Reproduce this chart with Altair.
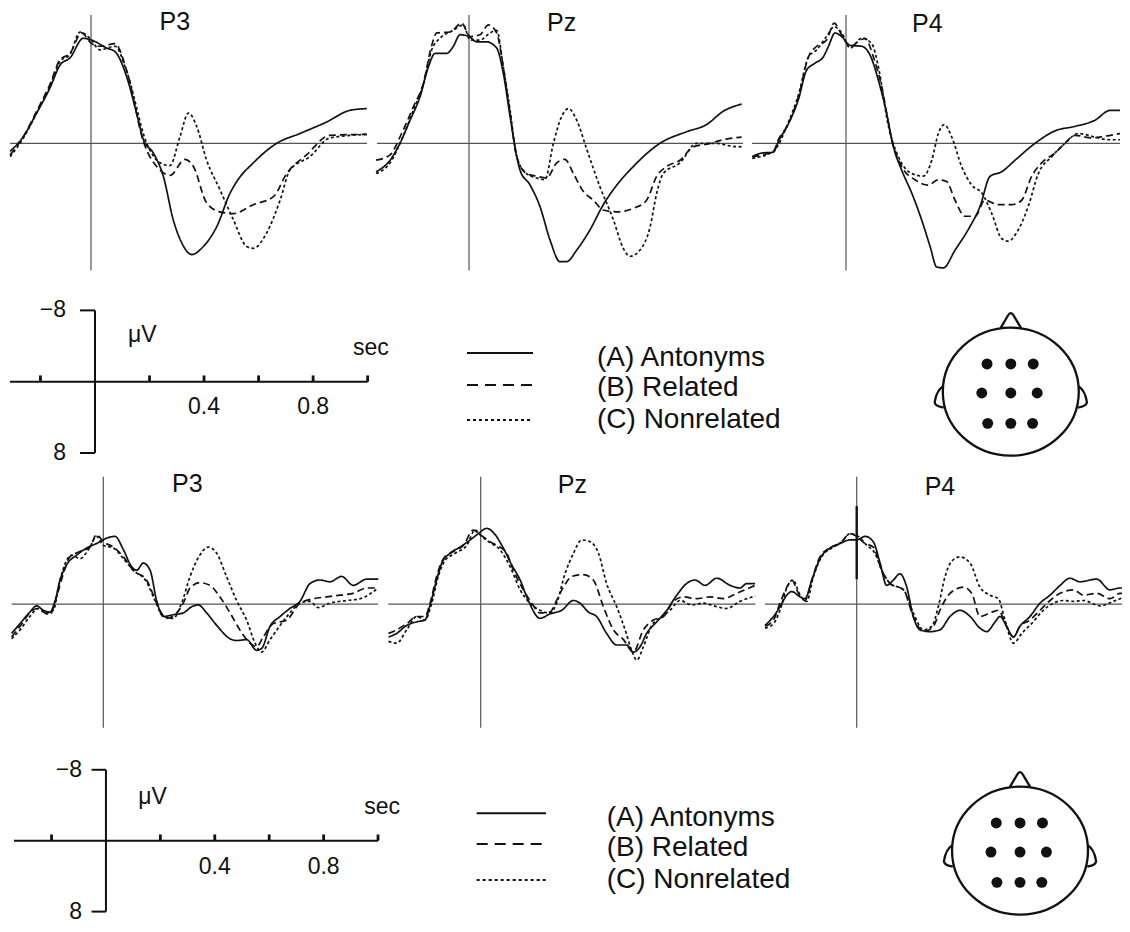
import altair as alt
import pandas as pd

FONT = "Liberation Sans"
INK = "#111111"
AXIS_INK = "#555555"

CONDITIONS = ["(A) Antonyms", "(B) Related", "(C) Nonrelated"]
CURVE_DASHES = [[1, 0], [7, 4], [3, 2.5]]
LEGEND_DASHES = [[1, 0], [11, 7], [3, 3]]
SCALE_TICKS = [-0.2, 0.2, 0.4, 0.6, 0.8, 1.0]
SCALE_TICK_LABEL_T = [0.4, 0.8]
SCALE_TICK_LABELS = ["0.4", "0.8"]
SCALE_V_VALUES = [-8, 8]
SCALE_V_LABELS = ["\u22128", "8"]
ELECTRODE_X = [-0.36, 0.0, 0.34, -0.44, 0.0, 0.40, -0.35, 0.0, 0.33]
ELECTRODE_Y = [-0.42, -0.42, -0.42, 0.02, 0.02, 0.02, 0.48, 0.48, 0.48]

# ---------------- top row (time in s, amplitude in microvolts; negative up) ----------------
T_TOP_P3_A = [-0.293, -0.245, -0.197, -0.149, -0.112, -0.076, -0.028, 0.002, 0.057, 0.087, 0.129, 0.165, 0.19, 0.226, 0.262, 0.298, 0.329, 0.365, 0.407, 0.455, 0.504, 0.528, 0.588, 0.673, 0.757, 0.854, 0.938, 0.999]
V_TOP_P3_A = [0.9, -0.75, -3.4, -6.2, -8.8, -9.6, -11.8, -11.6, -10.7, -10.3, -7.5, -3.4, -0.4, 1.1, 3.7, 8.6, 11.2, 12.5, 11.6, 9.4, 5.6, 4.3, 2.2, 0.0, -1.1, -2.4, -3.7, -3.9]
T_TOP_P3_B = [-0.293, -0.245, -0.197, -0.149, -0.112, -0.076, -0.034, 0.002, 0.033, 0.087, 0.129, 0.19, 0.25, 0.286, 0.341, 0.371, 0.419, 0.467, 0.516, 0.588, 0.661, 0.709, 0.781, 0.866, 0.999]
V_TOP_P3_B = [1.3, -0.75, -3.6, -6.6, -9.4, -10.1, -12.4, -11.2, -10.9, -11.2, -8.2, -0.2, 3.0, 3.6, 1.8, 2.6, 6.7, 7.7, 7.9, 6.9, 6.0, 3.4, 1.3, -0.9, -1.0]
T_TOP_P3_C = [-0.293, -0.245, -0.197, -0.149, -0.112, -0.076, -0.04, -0.004, 0.033, 0.087, 0.129, 0.202, 0.25, 0.286, 0.322, 0.353, 0.383, 0.419, 0.467, 0.516, 0.564, 0.588, 0.636, 0.685, 0.721, 0.793, 0.866, 0.999]
V_TOP_P3_C = [1.5, -0.6, -3.4, -6.4, -9.2, -10.0, -12.5, -11.8, -10.5, -10.9, -8.1, 0.0, 2.2, 2.5, -0.7, -3.4, -1.9, 1.9, 5.2, 8.6, 11.6, 11.8, 10.1, 6.4, 3.0, 1.5, -0.6, -1.0]

T_TOP_PZ_A = [-0.339, -0.288, -0.252, -0.215, -0.179, -0.148, -0.124, -0.082, -0.057, -0.033, 0.0, 0.028, 0.064, 0.101, 0.125, 0.150, 0.168, 0.186, 0.223, 0.259, 0.296, 0.332, 0.356, 0.393, 0.442, 0.490, 0.527, 0.600, 0.697, 0.794, 0.867, 0.928, 0.995]
V_TOP_PZ_A = [3.2, 1.9, 0.0, -2.6, -5.2, -8.6, -10.1, -10.1, -10.9, -12.2, -12.0, -11.4, -11.4, -10.7, -7.9, -3.0, 0.4, 3.0, 4.7, 7.1, 10.9, 13.3, 13.3, 12.0, 9.7, 6.9, 5.2, 2.6, 0.0, -1.3, -2.1, -3.6, -4.4]
T_TOP_PZ_B = [-0.339, -0.288, -0.246, -0.203, -0.167, -0.136, -0.118, -0.069, -0.027, 0.004, 0.040, 0.071, 0.101, 0.125, 0.150, 0.174, 0.210, 0.247, 0.283, 0.320, 0.350, 0.381, 0.417, 0.454, 0.490, 0.539, 0.600, 0.648, 0.685, 0.721, 0.770, 0.819, 0.867, 0.928, 0.995]
V_TOP_PZ_B = [1.9, 1.3, -1.1, -4.1, -6.7, -11.0, -12.4, -12.5, -13.5, -12.0, -12.2, -13.3, -12.4, -8.6, -3.4, 1.5, 3.4, 3.7, 3.9, 2.2, 1.8, 3.4, 5.4, 6.4, 7.5, 7.7, 7.3, 6.4, 3.7, 2.6, 1.9, 0.4, 0.1, -0.4, -0.7]
T_TOP_PZ_C = [-0.339, -0.288, -0.246, -0.203, -0.167, -0.136, -0.106, -0.057, -0.021, 0.004, 0.040, 0.077, 0.101, 0.125, 0.150, 0.174, 0.210, 0.247, 0.277, 0.308, 0.338, 0.363, 0.393, 0.430, 0.478, 0.527, 0.563, 0.588, 0.624, 0.661, 0.685, 0.709, 0.770, 0.831, 0.904, 0.953, 0.995]
V_TOP_PZ_C = [3.4, 2.2, -0.4, -3.7, -6.6, -10.5, -11.8, -12.7, -13.3, -11.6, -11.6, -12.4, -12.7, -8.6, -3.7, 1.5, 3.4, 3.9, 4.1, 0.0, -3.0, -3.9, -2.6, 0.7, 4.9, 8.6, 11.8, 12.7, 12.0, 9.4, 5.6, 3.4, 2.2, 0.0, 0.0, 0.3, 0.4]

T_TOP_P4_A = [-0.342, -0.308, -0.265, -0.247, -0.210, -0.174, -0.144, -0.113, -0.083, -0.064, -0.040, -0.016, 0.015, 0.057, 0.088, 0.118, 0.148, 0.173, 0.203, 0.240, 0.276, 0.307, 0.331, 0.355, 0.398, 0.446, 0.489, 0.526, 0.568, 0.617, 0.690, 0.763, 0.836, 0.909, 0.964, 1.000]
V_TOP_P4_A = [1.5, 1.1, 1.0, -0.2, -2.2, -4.9, -8.2, -9.0, -9.7, -10.9, -12.4, -12.0, -11.0, -10.9, -9.9, -7.1, -3.4, 0.4, 3.0, 5.6, 8.6, 11.6, 13.9, 14.0, 12.0, 9.7, 7.1, 3.7, 3.2, 1.9, 0.0, -1.4, -1.9, -2.6, -3.7, -3.7]
T_TOP_P4_B = [-0.342, -0.265, -0.247, -0.210, -0.174, -0.137, -0.107, -0.071, -0.043, -0.016, 0.015, 0.045, 0.069, 0.100, 0.130, 0.167, 0.203, 0.252, 0.300, 0.337, 0.367, 0.398, 0.434, 0.471, 0.507, 0.556, 0.605, 0.641, 0.678, 0.714, 0.763, 0.799, 0.836, 0.897, 0.945, 1.000]
V_TOP_P4_B = [1.5, 0.9, -0.4, -2.2, -5.2, -9.7, -10.9, -11.6, -13.5, -12.2, -10.9, -11.4, -11.8, -9.7, -6.4, -0.4, 2.6, 4.1, 4.7, 4.1, 4.3, 6.4, 8.2, 8.2, 6.4, 6.9, 6.9, 6.4, 3.7, 2.2, 1.1, 0.0, -0.9, -0.6, -0.8, -1.1]
T_TOP_P4_C = [-0.342, -0.265, -0.210, -0.174, -0.137, -0.107, -0.071, -0.043, -0.016, 0.015, 0.057, 0.094, 0.118, 0.155, 0.191, 0.240, 0.282, 0.313, 0.337, 0.359, 0.386, 0.422, 0.459, 0.496, 0.532, 0.568, 0.592, 0.629, 0.665, 0.702, 0.751, 0.799, 0.848, 0.909, 0.957, 1.000]
V_TOP_P4_C = [1.7, 0.9, -2.4, -5.4, -9.7, -10.5, -12.0, -13.1, -12.4, -10.7, -11.8, -11.2, -8.6, -1.9, 1.5, 3.4, 3.7, 1.9, -1.1, -2.1, -0.7, 2.6, 4.7, 5.6, 7.9, 10.7, 11.0, 9.7, 7.1, 3.4, 1.5, 0.0, -1.1, -0.7, -0.4, -0.4]

# ---------------- bottom row ----------------
T_BOT_P3_A = [-0.337, -0.306, -0.270, -0.245, -0.221, -0.196, -0.178, -0.159, -0.135, -0.098, -0.061, -0.025, 0.012, 0.043, 0.074, 0.104, 0.123, 0.147, 0.172, 0.196, 0.221, 0.257, 0.294, 0.325, 0.349, 0.380, 0.417, 0.466, 0.490, 0.527, 0.564, 0.582, 0.613, 0.650, 0.686, 0.723, 0.760, 0.797, 0.833, 0.876, 0.919, 0.968, 1.011]
V_BOT_P3_A = [3.3, 2.2, 0.9, 0.2, 0.7, 0.9, -0.3, -2.7, -4.4, -5.5, -6.3, -6.8, -7.4, -7.6, -6.1, -4.2, -3.8, -4.6, -3.8, -0.4, 1.4, 1.2, 1.0, 0.3, 0.1, 1.0, 2.4, 3.9, 4.1, 4.0, 5.2, 5.0, 2.5, 1.4, 0.5, -0.3, -2.3, -2.7, -2.5, -3.1, -2.1, -2.8, -2.8]
T_BOT_P3_B = [-0.337, -0.306, -0.270, -0.245, -0.221, -0.196, -0.172, -0.147, -0.123, -0.086, -0.049, -0.025, 0.000, 0.037, 0.074, 0.110, 0.159, 0.184, 0.208, 0.233, 0.270, 0.294, 0.319, 0.355, 0.392, 0.429, 0.466, 0.502, 0.539, 0.564, 0.588, 0.625, 0.674, 0.723, 0.772, 0.821, 0.870, 0.919, 0.968, 1.011]
V_BOT_P3_B = [3.7, 2.5, 1.0, 0.5, 0.9, 1.2, -0.8, -3.4, -5.3, -5.9, -6.4, -7.8, -7.0, -6.4, -5.3, -3.8, -2.7, -1.0, 0.7, 1.6, 1.0, -0.1, -1.8, -2.4, -2.1, -0.8, 1.0, 2.9, 4.4, 4.8, 3.7, 2.2, 1.8, -0.1, -0.6, -0.8, -1.0, -1.2, -1.8, -1.8]
T_BOT_P3_C = [-0.337, -0.306, -0.270, -0.239, -0.208, -0.184, -0.159, -0.135, -0.116, -0.086, -0.049, -0.025, 0.000, 0.037, 0.074, 0.110, 0.159, 0.190, 0.221, 0.257, 0.288, 0.319, 0.355, 0.386, 0.417, 0.453, 0.490, 0.527, 0.558, 0.582, 0.613, 0.650, 0.686, 0.723, 0.760, 0.790, 0.833, 0.895, 0.944, 1.011]
V_BOT_P3_C = [3.9, 2.9, 1.4, 0.5, 1.0, 0.7, -2.7, -4.9, -5.5, -5.1, -6.4, -7.6, -6.6, -6.3, -5.1, -3.8, -2.5, -0.4, 1.4, 1.6, -0.1, -3.1, -5.5, -6.4, -5.7, -3.1, -0.4, 1.8, 4.4, 5.4, 4.0, 2.4, 1.0, -0.1, -0.3, 0.4, -0.1, -0.4, -0.6, -1.8]

T_BOT_PZ_A = [-0.339, -0.309, -0.272, -0.235, -0.205, -0.186, -0.162, -0.143, -0.113, -0.076, -0.039, -0.009, 0.022, 0.053, 0.083, 0.114, 0.145, 0.175, 0.218, 0.255, 0.298, 0.341, 0.365, 0.396, 0.426, 0.463, 0.500, 0.537, 0.561, 0.586, 0.610, 0.647, 0.684, 0.721, 0.757, 0.788, 0.825, 0.868, 0.917, 0.953, 0.978, 1.009]
V_BOT_PZ_A = [3.7, 3.3, 2.4, 2.0, 1.8, 0.1, -2.7, -4.6, -5.7, -6.4, -7.2, -7.9, -8.5, -7.8, -6.3, -4.4, -2.7, -0.4, 1.6, 1.1, 0.7, -0.4, -0.1, 0.9, 1.4, 3.3, 4.6, 4.6, 5.4, 4.8, 3.3, 2.0, 0.7, -1.0, -2.3, -2.7, -2.1, -2.9, -2.1, -1.8, -2.3, -2.3]
T_BOT_PZ_B = [-0.339, -0.309, -0.272, -0.235, -0.205, -0.186, -0.162, -0.137, -0.100, -0.064, -0.027, -0.002, 0.034, 0.071, 0.096, 0.120, 0.157, 0.188, 0.218, 0.255, 0.279, 0.304, 0.335, 0.377, 0.414, 0.451, 0.488, 0.525, 0.561, 0.598, 0.635, 0.672, 0.708, 0.745, 0.794, 0.843, 0.892, 0.941, 1.009]
V_BOT_PZ_B = [3.3, 2.9, 2.2, 1.4, 1.4, -0.1, -3.1, -5.1, -5.9, -6.6, -8.3, -7.8, -7.0, -6.4, -5.7, -3.8, -1.6, -0.1, 1.0, 0.9, -0.4, -1.9, -3.1, -3.3, -2.7, 0.3, 2.9, 4.0, 5.4, 2.9, 1.8, 1.4, -0.3, -0.8, -0.6, -0.8, -0.6, -1.2, -2.1]
T_BOT_PZ_C = [-0.339, -0.309, -0.272, -0.235, -0.205, -0.180, -0.156, -0.131, -0.094, -0.051, -0.021, 0.004, 0.034, 0.071, 0.108, 0.145, 0.181, 0.218, 0.255, 0.279, 0.310, 0.341, 0.371, 0.402, 0.433, 0.463, 0.500, 0.531, 0.555, 0.574, 0.598, 0.629, 0.659, 0.696, 0.733, 0.776, 0.819, 0.868, 0.904, 0.953, 1.009]
V_BOT_PZ_C = [4.2, 4.4, 2.9, 1.4, 1.8, -0.1, -3.1, -4.9, -5.7, -6.6, -8.3, -7.6, -6.9, -6.1, -4.2, -1.6, -0.1, 0.7, 1.0, -0.1, -3.4, -5.7, -7.2, -7.0, -5.7, -2.3, 0.3, 2.9, 5.2, 6.3, 4.8, 2.4, 1.6, 0.7, -0.4, 0.1, -0.1, 0.3, 0.5, -0.3, -0.9]

T_BOT_P4_A = [-0.337, -0.306, -0.282, -0.257, -0.239, -0.208, -0.190, -0.165, -0.135, -0.098, -0.061, -0.025, 0.000, 0.031, 0.061, 0.086, 0.110, 0.135, 0.159, 0.184, 0.208, 0.233, 0.270, 0.306, 0.343, 0.380, 0.417, 0.453, 0.478, 0.509, 0.527, 0.551, 0.576, 0.600, 0.637, 0.674, 0.711, 0.748, 0.784, 0.821, 0.882, 0.931, 0.968, 1.005]
V_BOT_P4_A = [2.4, 1.4, 0.3, -1.0, -1.4, -0.8, -0.6, -2.7, -5.1, -6.3, -6.8, -7.2, -7.2, -7.6, -7.0, -4.6, -2.1, -2.7, -3.4, -1.9, 1.4, 2.9, 3.1, 2.9, 1.4, 0.7, 1.4, 2.7, 3.1, 2.0, 1.4, 2.5, 3.7, 2.5, 1.4, -0.1, -1.0, -2.1, -2.9, -2.5, -2.8, -1.6, -1.8, -1.8]
T_BOT_P4_B = [-0.337, -0.306, -0.282, -0.257, -0.239, -0.214, -0.190, -0.165, -0.135, -0.098, -0.061, -0.025, 0.000, 0.031, 0.061, 0.092, 0.123, 0.172, 0.208, 0.245, 0.282, 0.306, 0.343, 0.392, 0.423, 0.453, 0.490, 0.521, 0.551, 0.576, 0.600, 0.637, 0.674, 0.711, 0.748, 0.797, 0.833, 0.882, 0.931, 0.968, 1.005]
V_BOT_P4_B = [2.5, 1.8, -0.1, -1.9, -2.7, -1.2, -0.4, -2.7, -5.3, -6.3, -6.8, -7.9, -7.6, -6.8, -6.4, -3.8, -2.3, -1.6, 1.4, 3.1, 2.5, 0.7, -1.2, -1.9, -1.2, 1.4, 1.0, 0.7, 2.5, 3.7, 2.5, 1.8, 0.7, -0.4, -1.2, -1.6, -1.0, -1.2, -0.6, -1.2, -1.1]
T_BOT_P4_C = [-0.337, -0.306, -0.282, -0.257, -0.235, -0.208, -0.184, -0.159, -0.129, -0.092, -0.055, -0.025, 0.006, 0.037, 0.067, 0.092, 0.123, 0.172, 0.208, 0.245, 0.276, 0.300, 0.325, 0.349, 0.380, 0.417, 0.453, 0.490, 0.521, 0.545, 0.576, 0.607, 0.643, 0.686, 0.723, 0.760, 0.797, 0.833, 0.895, 0.944, 1.005]
V_BOT_P4_C = [2.7, 2.2, 0.7, -1.8, -2.7, -1.0, -0.3, -3.1, -5.3, -6.3, -7.0, -7.9, -7.6, -6.6, -5.7, -3.8, -2.3, -1.6, 1.0, 2.9, 2.5, 0.3, -3.1, -4.8, -5.3, -4.6, -1.9, -1.0, -0.6, 1.8, 4.4, 3.3, 2.2, 0.7, -0.1, -0.4, -0.3, -0.4, 0.2, -0.3, -1.1]

HEAD_PATH = ("M-1.03,0A1.03,0.97,0,1,1,1.03,0A1.03,0.97,0,1,1,-1.03,0Z"
             "M-0.16,-0.955L-0.045,-1.15Q0,-1.23,0.045,-1.15L0.16,-0.955"
             "M-1.03,-0.08Q-1.12,-0.02,-1.15,0.14Q-1.17,0.22,-1.02,0.24"
             "M1.03,-0.08Q1.12,-0.02,1.15,0.14Q1.17,0.22,1.02,0.24")


def make_curves(ta, va, tb, vb, tc, vc):
    rows = []
    for cond, ts, vs in zip(CONDITIONS, (ta, tb, tc), (va, vb, vc)):
        for t, v in zip(ts, vs):
            rows.append({"t": t, "v": v, "cond": cond})
    return pd.DataFrame(rows)


def scales(xdom, ydom):
    xs = alt.Scale(domain=xdom, nice=False, zero=False)
    ys = alt.Scale(domain=ydom, nice=False, zero=False, reverse=True)
    return (lambda f: alt.X(f + ":Q", scale=xs, axis=None),
            lambda f: alt.Y(f + ":Q", scale=ys, axis=None))


def erp_panel(name, curves, width, height, xdom, ydom, base_t, vline_v, title_tv, thick=None):
    X, Y = scales(xdom, ydom)
    base = alt.Chart(pd.DataFrame({"x": [base_t[0]], "x2": [base_t[1]], "y": [0.0]})).mark_rule(
        color=AXIS_INK, strokeWidth=1.2, clip=True).encode(x=X("x"), x2="x2", y=Y("y"))
    vline = alt.Chart(pd.DataFrame({"x": [0.0], "y": [vline_v[0]], "y2": [vline_v[1]]})).mark_rule(
        color=AXIS_INK, strokeWidth=1.2).encode(x=X("x"), y=Y("y"), y2="y2")
    lines = alt.Chart(curves).mark_line(color=INK, strokeWidth=1.7, clip=True, interpolate="monotone").encode(
        x=X("t"), y=Y("v"),
        strokeDash=alt.StrokeDash("cond:N", scale=alt.Scale(domain=CONDITIONS, range=CURVE_DASHES), legend=None),
    )
    title = alt.Chart(pd.DataFrame({"x": [title_tv[0]], "y": [title_tv[1]], "label": [name]})).mark_text(
        font=FONT, fontSize=25, color=INK).encode(x=X("x"), y=Y("y"), text="label:N")
    layers = [base, vline]
    if thick is not None:
        layers.append(alt.Chart(pd.DataFrame({"x": [0.0], "y": [thick[0]], "y2": [thick[1]]})).mark_rule(
            color=INK, strokeWidth=2.4).encode(x=X("x"), y=Y("y"), y2="y2"))
    layers += [lines, title]
    return alt.layer(*layers).properties(width=width, height=height)


def scale_panel(width, height, xdom, ydom, t_start, stub_t, lab_t, uv_tv, sec_tv, num_v):
    X, Y = scales(xdom, ydom)
    sty = dict(color=INK, strokeWidth=2)
    base = alt.Chart(pd.DataFrame({"x": [t_start], "x2": [1.0], "y": [0.0]})).mark_rule(**sty).encode(
        x=X("x"), x2="x2", y=Y("y"))
    ticks = alt.Chart(pd.DataFrame({"x": SCALE_TICKS, "y": [0.0] * len(SCALE_TICKS),
                                    "y2": [-0.7] * len(SCALE_TICKS)})).mark_rule(color=INK, strokeWidth=2.8).encode(
        x=X("x"), y=Y("y"), y2="y2")
    vert = alt.Chart(pd.DataFrame({"x": [0.0], "y": [SCALE_V_VALUES[0]], "y2": [SCALE_V_VALUES[1]]})).mark_rule(
        **sty).encode(x=X("x"), y=Y("y"), y2="y2")
    stubs = alt.Chart(pd.DataFrame({"x": [stub_t] * 2, "x2": [0.0] * 2, "y": SCALE_V_VALUES})).mark_rule(
        **sty).encode(x=X("x"), x2="x2", y=Y("y"))
    vlabels = alt.Chart(pd.DataFrame({"x": [lab_t] * 2, "y": SCALE_V_VALUES, "label": SCALE_V_LABELS})).mark_text(
        font=FONT, fontSize=23, color=INK, align="right").encode(x=X("x"), y=Y("y"), text="label:N")
    tlabels = alt.Chart(pd.DataFrame({"x": SCALE_TICK_LABEL_T, "y": [num_v] * 2, "label": SCALE_TICK_LABELS})).mark_text(
        font=FONT, fontSize=23, color=INK, align="center").encode(x=X("x"), y=Y("y"), text="label:N")
    units = alt.Chart(pd.DataFrame({"x": [uv_tv[0], sec_tv[0]], "y": [uv_tv[1], sec_tv[1]],
                                    "label": ["\u03bcV", "sec"]})).mark_text(
        font=FONT, fontSize=23, color=INK, align="left").encode(x=X("x"), y=Y("y"), text="label:N")
    return alt.layer(base, ticks, vert, stubs, vlabels, tlabels, units).properties(width=width, height=height)


def legend_panel(width, height, line_x, text_x, line_y, text_y):
    X, Y = scales([0, width], [0, height])
    layers = []
    for i, cond in enumerate(CONDITIONS):
        layers.append(alt.Chart(pd.DataFrame({"x": [line_x[0]], "x2": [line_x[1]], "y": [line_y[i]]})).mark_rule(
            color=INK, strokeWidth=2, strokeDash=LEGEND_DASHES[i]).encode(x=X("x"), x2="x2", y=Y("y")))
    layers.append(alt.Chart(pd.DataFrame({"x": [text_x] * 3, "y": text_y, "label": CONDITIONS})).mark_text(
        font=FONT, fontSize=28, color=INK, align="left").encode(x=X("x"), y=Y("y"), text="label:N"))
    return alt.layer(*layers).properties(width=width, height=height)


def head_panel(width, height, xdom, ydom):
    X, Y = scales(xdom, ydom)
    outline = alt.Chart(pd.DataFrame({"x": [0.0], "y": [0.0]})).mark_point(
        shape=HEAD_PATH, size=17424, filled=False, color=INK, stroke=INK, strokeWidth=2.3, opacity=1).encode(
        x=X("x"), y=Y("y"))
    dots = alt.Chart(pd.DataFrame({"x": ELECTRODE_X, "y": ELECTRODE_Y})).mark_circle(
        size=120, color=INK, opacity=1).encode(x=X("x"), y=Y("y"))
    return alt.layer(outline, dots).properties(width=width, height=height)


TOP_Y = [-15.20, 15.36]
BOT_Y = [-15.51, 14.94]

row1 = alt.hconcat(
    erp_panel("P3", make_curves(T_TOP_P3_A, V_TOP_P3_A, T_TOP_P3_B, V_TOP_P3_B, T_TOP_P3_C, V_TOP_P3_C),
              364, 272, [-0.3007, 1.0181], TOP_Y, [-0.293, 1.0], [-14.4, 14.3], [0.304, -13.6]),
    erp_panel("Pz", make_curves(T_TOP_PZ_A, V_TOP_PZ_A, T_TOP_PZ_B, V_TOP_PZ_B, T_TOP_PZ_C, V_TOP_PZ_C),
              376, 272, [-0.3540, 1.0182], TOP_Y, [-0.336, 1.0], [-14.4, 14.3], [0.338, -13.5]),
    erp_panel("P4", make_curves(T_TOP_P4_A, V_TOP_P4_A, T_TOP_P4_B, V_TOP_P4_B, T_TOP_P4_C, V_TOP_P4_C),
              374, 272, [-0.3577, 1.0073], TOP_Y, [-0.343, 1.0], [-14.4, 14.3], [0.297, -13.4]),
    spacing=0, bounds="flush",
)

row2 = alt.hconcat(
    scale_panel(412, 186, [-0.319, 1.192], [-11.41, 9.46], -0.312, -0.055, -0.106, [0.121, -5.24], [0.946, -3.78], 2.8),
    legend_panel(480, 186, [47, 113], 177, [73, 105, 140], [77.5, 108, 140]),
    head_panel(222, 186, [-1.679, 1.685], [-1.692, 1.126]),
    spacing=0, bounds="flush",
)

row3 = alt.hconcat(
    erp_panel("P3", make_curves(T_BOT_P3_A, V_BOT_P3_A, T_BOT_P3_B, V_BOT_P3_B, T_BOT_P3_C, V_BOT_P3_C),
              372, 271, [-0.3504, 1.0173], BOT_Y, [-0.337, 1.01], [-14.3, 13.9], [0.309, -13.5]),
    erp_panel("Pz", make_curves(T_BOT_PZ_A, V_BOT_PZ_A, T_BOT_PZ_B, V_BOT_PZ_B, T_BOT_PZ_C, V_BOT_PZ_C),
              378, 271, [-0.3702, 1.0195], BOT_Y, [-0.340, 1.01], [-14.3, 13.9], [0.337, -13.4]),
    erp_panel("P4", make_curves(T_BOT_P4_A, V_BOT_P4_A, T_BOT_P4_B, V_BOT_P4_B, T_BOT_P4_C, V_BOT_P4_C),
              364, 271, [-0.3629, 0.9754], BOT_Y, [-0.337, 1.01], [-14.3, 13.9], [0.306, -13.2],
              thick=[-11.0, -2.8]),
    spacing=0, bounds="flush",
)

row4 = alt.hconcat(
    scale_panel(422, 187, [-0.360, 1.191], [-11.70, 9.40], -0.338, -0.053, -0.088, [0.119, -4.93], [0.949, -3.8], 3.0),
    legend_panel(480, 187, [46.7, 116], 176.7, [76.3, 107, 143], [81, 111, 143]),
    head_panel(212, 187, [-1.667, 1.545], [-1.723, 1.111]),
    spacing=0, bounds="flush",
)

chart = alt.vconcat(row1, row2, row3, row4, spacing=0).resolve_scale(
    x="independent", y="independent"
).properties(padding=0, background="white").configure_view(strokeWidth=0)

chart.save("out.html", embed_options={"renderer": "svg", "actions": False})
